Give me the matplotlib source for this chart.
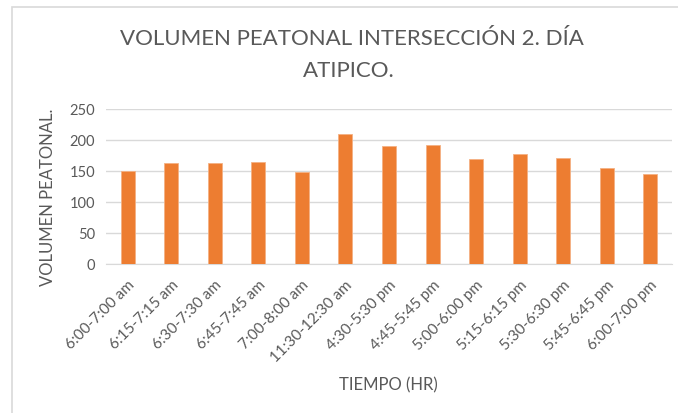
import matplotlib
matplotlib.use("Agg")
import matplotlib.pyplot as plt
from matplotlib.patches import Rectangle

categories = ["6:00-7:00 am", "6:15-7:15 am", "6:30-7:30 am", "6:45-7:45 am",
              "7:00-8:00 am", "11:30-12:30 am", "4:30-5:30 pm", "4:45-5:45 pm",
              "5:00-6:00 pm", "5:15-6:15 pm", "5:30-6:30 pm", "5:45-6:45 pm",
              "6:00-7:00 pm"]
values = [150, 162, 162, 165, 148, 209, 190, 191, 169, 177, 171, 154, 145]
yticks = [0, 50, 100, 150, 200, 250]

plt.rcParams['font.family'] = ['Lato', 'DejaVu Sans']
gray = '#595959'

fig = plt.figure(figsize=(6.78, 4.14), dpi=100)
fig.patches.append(Rectangle((12 / 678, -0.1), 1.2, 1.1 - 7.5 / 414, transform=fig.transFigure,
                             fill=False, edgecolor='#d9d9d9', linewidth=1.2))
ax = fig.add_axes([106 / 678, 1 - 264.5 / 414, 566 / 678, 154.5 / 414])
x = range(len(categories))
ax.bar(x, values, width=0.32, color='#ed7d31', edgecolor='#f4b183', linewidth=0.6, zorder=3)
ax.set_xlim(-0.5, len(categories) - 0.5)
ax.set_ylim(0, 250)
ax.set_yticks(yticks)
ax.set_yticklabels([str(v) for v in yticks], color=gray, fontsize=10.5)
ax.set_xticks(list(x))
ax.set_xticklabels(categories, rotation=45, ha='right', rotation_mode='anchor',
                   color=gray, fontsize=11)
ax.grid(axis='y', color='#d9d9d9', linewidth=1, zorder=0)
for s in ['top', 'right', 'left']:
    ax.spines[s].set_visible(False)
ax.spines['bottom'].set_color('#d9d9d9')
ax.tick_params(axis='y', length=0, pad=8)
ax.tick_params(axis='x', length=0, pad=10)
fig.text(48 / 678, 1 - 197 / 414, 'VOLUMEN PEATONAL.', color=gray, fontsize=12,
         rotation=90, ha='center', va='center')
fig.text(388 / 678, 1 - 385 / 414, 'TIEMPO (HR)', color=gray, fontsize=12,
         ha='center', va='center')
fig.text(352 / 678, 1 - 39 / 414, 'VOLUMEN PEATONAL INTERSECCIÓN 2. DÍA', color=gray,
         fontsize=16, ha='center', va='center')
fig.text(349 / 678, 1 - 71 / 414, 'ATIPICO.', color=gray,
         fontsize=16, ha='center', va='center')
fig.savefig('out.png', dpi=100)
